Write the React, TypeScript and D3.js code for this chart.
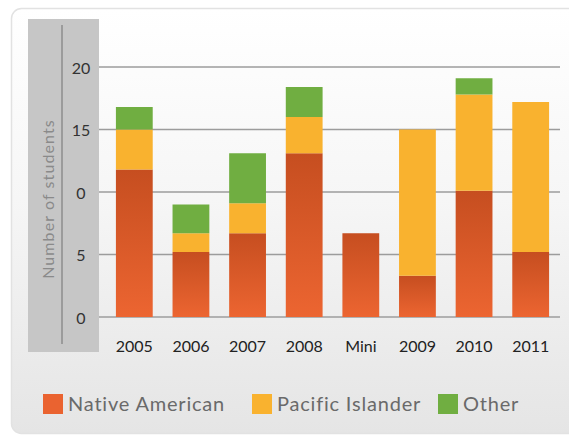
import React from "react";
import * as d3 from "d3";

const categories = ["2005", "2006", "2007", "2008", "Mini", "2009", "2010", "2011"];
const nativeAmerican = [11.8, 5.2, 6.7, 13.1, 6.7, 3.3, 10.1, 5.2];
const pacificIslander = [3.2, 1.5, 2.4, 2.9, 0, 11.7, 7.7, 12.0];
const other = [1.8, 2.3, 4.0, 2.4, 0, 0, 1.3, 0];
const yTicks = [0, 5, 10, 15, 20];
const yTickLabels = ["0", "5", "0", "15", "20"];
const seriesNames = ["Native American", "Pacific Islander", "Other"];

const W = 569;
const H = 437;
const FONT = "Lato, 'Open Sans', sans-serif";

export default function App() {
  const rows = categories.map((c, i) => ({
    cat: c,
    native: nativeAmerican[i],
    pacific: pacificIslander[i],
    other: other[i],
  }));
  const keys = ["native", "pacific", "other"];
  const stacked = d3.stack<any>().keys(keys)(rows);

  const x = d3
    .scaleBand<string>()
    .domain(categories)
    .range([106, 559])
    .paddingInner(0.35)
    .paddingOuter(0.175);
  const y = d3.scaleLinear().domain([0, 20]).range([317, 67]);

  const fills = ["url(#nativeGrad)", "#f9b22f", "#70ae41"];
  const swatch = ["#ea6330", "#f9b22f", "#70ae41"];
  const legendX = [43, 252, 438];

  return (
    <div style={{ position: "absolute", left: 0, top: 0 }}>
      <svg width={W} height={H} style={{ display: "block" }}>
        <defs>
          <linearGradient id="cardGrad" x1="0" y1="0" x2="0" y2="1">
            <stop offset="0" stopColor="#ffffff" />
            <stop offset="0.45" stopColor="#f6f6f6" />
            <stop offset="0.8" stopColor="#ebebeb" />
            <stop offset="1" stopColor="#e5e5e5" />
          </linearGradient>
          <linearGradient id="nativeGrad" x1="0" y1="0" x2="0" y2="1">
            <stop offset="0" stopColor="#c64e20" />
            <stop offset="1" stopColor="#ec6531" />
          </linearGradient>
        </defs>
        <rect x={0} y={0} width={W} height={H} fill="#ffffff" />
        <rect
          x={11.5}
          y={8.5}
          width={W + 20}
          height={H - 12}
          rx={10}
          fill="url(#cardGrad)"
          stroke="#e2e2e2"
          strokeWidth={1.5}
        />
        {/* axis panel */}
        <rect x={28} y={19} width={71} height={333} fill="#c6c6c6" />
        <line x1={62} x2={62} y1={25} y2={344} stroke="#8c8c8c" strokeWidth={1.5} />
        <text
          transform="translate(47,199) rotate(-90)"
          textAnchor="middle"
          dominantBaseline="central"
          fontFamily={FONT}
          fontSize={16}
          letterSpacing={1.1}
          fill="#8a8a8a"
        >
          Number of students
        </text>
        {/* gridlines */}
        {yTicks.map((t) => (
          <line
            key={t}
            x1={99}
            x2={560}
            y1={y(t)}
            y2={y(t)}
            stroke="#9c9c9c"
            strokeWidth={1.5}
          />
        ))}
        {yTicks.map((t, i) => (
          <text
            key={"l" + t}
            x={81}
            y={y(t)}
            textAnchor="middle"
            dominantBaseline="central"
            fontFamily={FONT}
            fontSize={16}
            fill="#333"
          >
            {yTickLabels[i]}
          </text>
        ))}
        {/* bars */}
        {stacked.map((layer, si) => (
          <g key={layer.key}>
            {layer.map((d: any, i: number) => {
              const h = y(d[0]) - y(d[1]);
              if (h <= 0) return null;
              return (
                <rect
                  key={i}
                  x={x(categories[i])}
                  y={y(d[1])}
                  width={x.bandwidth()}
                  height={h}
                  fill={fills[si]}
                />
              );
            })}
          </g>
        ))}
        {/* category labels */}
        {categories.map((c) => (
          <text
            key={c}
            x={(x(c) as number) + x.bandwidth() / 2}
            y={352}
            textAnchor="middle"
            fontFamily={FONT}
            fontSize={16}
            fill="#222"
          >
            {c}
          </text>
        ))}
        {/* legend */}
        {seriesNames.map((s, i) => (
          <g key={s}>
            <rect x={legendX[i]} y={394} width={20} height={20} fill={swatch[i]} />
            <text
              x={legendX[i] + 25}
              y={411}
              fontFamily={FONT}
              fontSize={20}
              letterSpacing={0.8}
              fill="#6a6a6a"
            >
              {s}
            </text>
          </g>
        ))}
      </svg>
    </div>
  );
}
